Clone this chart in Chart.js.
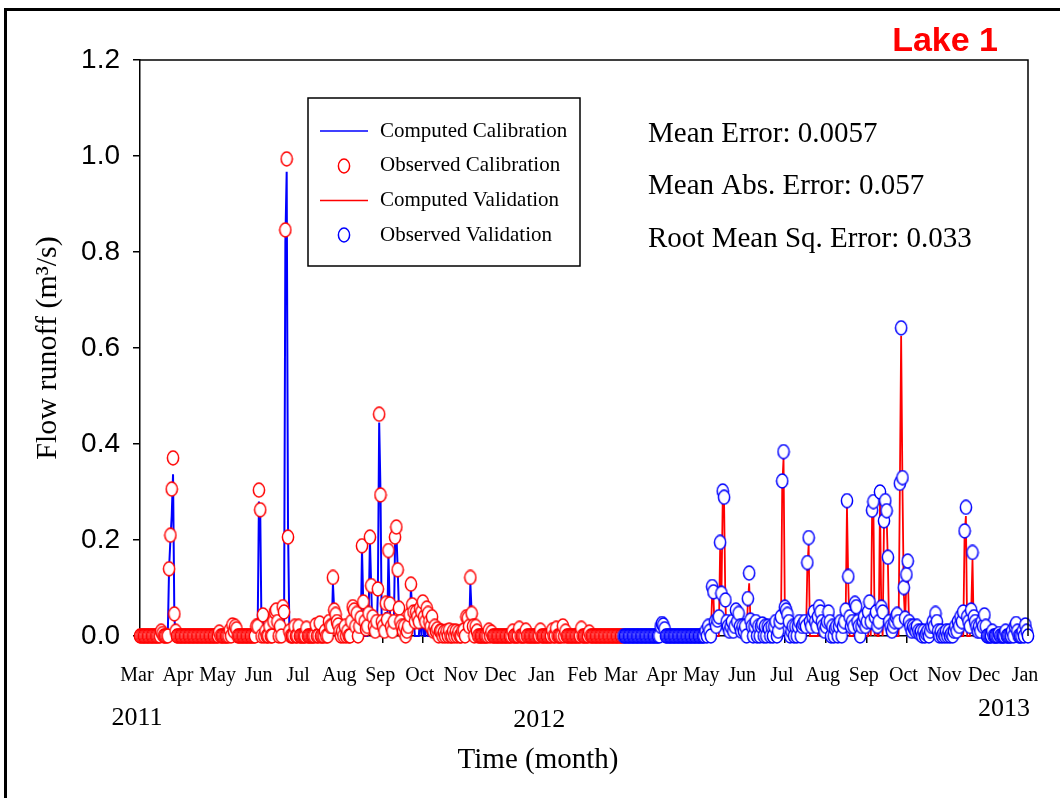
<!DOCTYPE html>
<html>
<head>
<meta charset="utf-8">
<title>Lake 1 - Flow runoff</title>
<script src="https://cdn.jsdelivr.net/npm/chart.js@4.4.1/dist/chart.umd.min.js"></script>
<style>
  html, body { margin: 0; padding: 0; background: #fff; }
  canvas { display: block; }
</style>
</head>
<body>
<canvas id="runoffChart" width="1060" height="798"></canvas>
<script>
// ---- data (daily values, m3/s) ----
// day 0 = 1 Mar 2011
const calStart = 0;    // calibration: 1 Mar 2011 .. 29 Feb 2012
const valStart = 366;  // validation: 1 Mar 2012 .. 1 Jan 2013

const calObs = [
  /* Mar */ 0,0,0,0,0,0,0,0,0,0, 0,0,0,0,0,0,0.01,0.005,0,0, 0,0,0.14,0.21,0.306,0.371,0.046,0.01,0,0, 0,
  /* Apr */ 0,0,0,0,0,0,0,0,0,0, 0,0,0,0,0,0,0,0,0,0, 0,0,0,0,0,0,0,0,0,0.008,
  /* May */ 0,0,0,0,0,0,0,0.012,0,0.023, 0.01,0.02,0.015,0,0,0,0,0,0,0, 0,0,0,0,0,0,0,0.02,0.02,0.304, 0.263,
  /* Jun */ 0,0.044,0,0.01,0,0,0.02,0,0,0.03, 0.05,0.054,0.03,0,0.02,0,0.061,0.05,0.846,0.994, 0.206,0.01,0,0,0,0.02,0,0,0.02,0,
  /* Jul */ 0,0,0,0,0.016,0,0,0,0,0, 0,0.023,0,0,0.027,0,0,0,0.01,0, 0,0.03,0.02,0.02,0.122,0.054,0.045,0.03,0.023,0.01, 0,
  /* Aug */ 0.01,0,0.02,0,0.01,0,0,0.03,0.061,0.054, 0.02,0.047,0,0.02,0.038,0.188,0.071,0.03,0.015,0.02, 0.047,0.206,0.105,0.04,0.02,0.01,0.03,0.098,0.462,0.294, 0.03,
  /* Sep */ 0.02,0.01,0.068,0.034,0.178,0.067,0.02,0.01,0.03,0.206, 0.227,0.138,0.058,0.03,0.02,0.01,0.02,0,0.01,0.02, 0.044,0.108,0.065,0.05,0.03,0.05,0.04,0.03,0.058,0.05,
  /* Oct */ 0.071,0.04,0.03,0.058,0.047,0.03,0.02,0.04,0.01,0.02, 0.01,0.015,0,0.01,0.01,0,0.008,0,0.01,0, 0.012,0,0,0.01,0,0.01,0,0.008,0,0, 0.01,
  /* Nov */ 0.012,0,0.04,0.037,0.02,0.122,0.047,0.02,0,0.02, 0.01,0,0,0,0,0,0,0,0,0.012, 0,0.008,0,0,0,0,0,0,0,0,
  /* Dec */ 0,0,0,0,0,0,0,0.01,0,0, 0,0,0.016,0,0,0,0,0.012,0,0, 0,0,0,0,0,0,0,0,0.012,0, 0,
  /* Jan */ 0,0,0,0,0,0,0.012,0,0,0.016, 0,0,0,0,0.021,0,0.01,0,0,0, 0,0,0,0,0,0,0,0,0.016,0, 0,
  /* Feb */ 0,0,0,0.008,0,0,0,0,0,0, 0,0,0,0,0,0,0,0,0,0, 0,0,0,0,0,0,0,0,0
];

const calComp = [
  /* Mar */ 0,0,0,0,0,0,0,0,0,0, 0,0,0,0,0,0,0,0,0,0, 0,0,0.14,0.2,0.25,0.337,0.04,0,0,0, 0,
  /* Apr */ 0,0,0,0,0,0,0,0,0,0, 0,0,0,0,0,0,0,0,0,0, 0,0,0,0,0,0,0,0,0,0,
  /* May */ 0,0,0,0,0,0,0,0,0,0, 0,0,0,0,0,0,0,0,0,0, 0,0,0,0,0,0,0,0,0,0.28, 0.256,
  /* Jun */ 0,0.04,0,0,0,0,0,0,0,0, 0,0,0,0,0,0,0.05,0,0.82,0.967, 0.23,0.02,0,0,0,0,0,0,0,0,
  /* Jul */ 0,0,0,0,0,0,0,0,0,0, 0,0,0,0,0,0,0,0,0,0, 0,0,0,0,0.11,0.05,0.03,0,0,0, 0,
  /* Aug */ 0,0,0,0,0,0,0,0,0.05,0, 0,0.04,0,0,0,0.18,0.06,0,0,0, 0.04,0.2,0.1,0,0,0,0,0.09,0.445,0.3, 0,
  /* Sep */ 0,0,0.05,0,0.17,0.06,0,0,0,0.19, 0.215,0.14,0.05,0,0,0,0,0,0,0, 0,0.1,0.06,0.04,0,0,0,0,0.04,0,
  /* Oct */ 0.06,0,0,0.05,0,0,0,0,0,0, 0,0,0,0,0,0,0,0,0,0, 0,0,0,0,0,0,0,0,0,0, 0,
  /* Nov */ 0,0,0,0,0,0.11,0.045,0,0,0, 0,0,0,0,0,0,0,0,0,0, 0,0,0,0,0,0,0,0,0,0,
  /* Dec */ 0,0,0,0,0,0,0,0,0,0, 0,0,0,0,0,0,0,0,0,0, 0,0,0,0,0,0,0,0,0,0, 0,
  /* Jan */ 0,0,0,0,0,0,0,0,0,0, 0,0,0,0,0,0,0,0,0,0, 0,0,0,0,0,0,0,0,0,0, 0,
  /* Feb */ 0,0,0,0,0,0,0,0,0,0, 0,0,0,0,0,0,0,0,0,0, 0,0,0,0,0,0,0,0,0
];

const valObs = [
  /* Mar */ 0,0,0,0,0,0,0,0,0,0, 0,0,0,0,0,0,0,0,0,0, 0,0,0,0,0,0,0,0,0.02,0.026, 0.023,
  /* Apr */ 0.015,0,0,0,0,0,0,0,0,0, 0,0,0,0,0,0,0,0,0,0, 0,0,0,0,0,0,0,0,0,0,
  /* May */ 0,0.01,0,0.02,0.01,0,0.103,0.092,0.03,0.02, 0.033,0.04,0.195,0.089,0.302,0.289,0.075,0.03,0.02,0.01, 0.02,0.03,0.01,0.02,0.054,0.03,0.047,0.02,0.01,0.02, 0.01,
  /* Jun */ 0.02,0,0.078,0.131,0.033,0.02,0,0.02,0.03,0, 0.02,0,0.02,0.025,0,0.02,0,0.02,0.015,0, 0.02,0,0.02,0.03,0,0.01,0.03,0.04,0.323,0.384,
  /* Jul */ 0.06,0.054,0.045,0.03,0,0.01,0.02,0,0.02,0, 0.02,0.03,0,0.02,0.025,0.03,0.02,0.153,0.205,0.03, 0.02,0.04,0.05,0.03,0.02,0.04,0.061,0.05,0.03,0.02, 0.01,
  /* Aug */ 0.02,0.03,0.05,0.03,0,0.02,0,0.015,0.02,0, 0.02,0.03,0,0.02,0.03,0.054,0.282,0.124,0.04,0.02, 0.03,0.02,0.068,0.061,0.03,0.02,0,0.02,0.03,0.04, 0.02,
  /* Sep */ 0.03,0.05,0.071,0.03,0.262,0.28,0.04,0.05,0.02,0.03, 0.3,0.06,0.05,0.24,0.282,0.261,0.164,0.03,0.02,0.01, 0.02,0.03,0.04,0.045,0.03,0.318,0.642,0.33,0.101,0.037,
  /* Oct */ 0.128,0.156,0.03,0.02,0.01,0.02,0.015,0.01,0.02,0.01, 0.005,0.01,0,0.01,0,0.005,0.01,0,0.01,0.02, 0.03,0.02,0.047,0.03,0.01,0,0.01,0,0.005,0, 0.01,
  /* Nov */ 0,0.01,0,0.005,0,0.01,0.02,0.01,0.03,0.02, 0.04,0.03,0.05,0.219,0.268,0.04,0.03,0.02,0.054,0.174, 0.04,0.03,0.02,0.01,0.02,0.01,0.03,0.02,0.044,0.02,
  /* Dec */ 0,0,0,0,0.01,0,0,0,0,0.005, 0,0,0,0,0.01,0,0,0,0,0.01, 0,0.02,0.026,0.01,0,0,0,0.01,0,0.023, 0.01,
  /* Jan */ 0
];

const valComp = [
  /* Mar */ 0,0,0,0,0,0,0,0,0,0, 0,0,0,0,0,0,0,0,0,0, 0,0,0,0,0,0,0,0,0,0, 0,
  /* Apr */ 0,0,0,0,0,0,0,0,0,0, 0,0,0,0,0,0,0,0,0,0, 0,0,0,0,0,0,0,0,0,0,
  /* May */ 0,0,0,0,0,0,0.09,0.08,0,0, 0,0,0.18,0.08,0.29,0.28,0.07,0,0,0, 0,0,0,0,0.04,0,0.04,0,0,0, 0,
  /* Jun */ 0,0,0.07,0.11,0.03,0,0,0,0,0, 0,0,0,0,0,0,0,0,0,0, 0,0,0,0,0,0,0,0,0.31,0.37,
  /* Jul */ 0.05,0.04,0,0,0,0,0,0,0,0, 0,0,0,0,0,0,0,0.14,0.19,0, 0,0,0,0,0,0,0.05,0,0,0, 0,
  /* Aug */ 0,0,0,0,0,0,0,0,0,0, 0,0,0,0,0,0.04,0.27,0.11,0,0, 0,0,0.06,0,0,0,0,0,0,0, 0,
  /* Sep */ 0,0,0.06,0,0.25,0.27,0,0.04,0,0, 0.28,0.05,0,0.23,0.27,0.25,0.15,0,0,0, 0,0,0,0,0,0.3,0.625,0.31,0.09,0.03,
  /* Oct */ 0.12,0.14,0.02,0,0,0,0,0,0,0, 0,0,0,0,0,0,0,0,0,0, 0,0,0.04,0,0,0,0,0,0,0, 0,
  /* Nov */ 0,0,0,0,0,0,0,0,0,0, 0,0,0,0.21,0.25,0,0,0,0.05,0.16, 0,0,0,0,0,0,0,0,0.04,0,
  /* Dec */ 0,0,0,0,0,0,0,0,0,0, 0,0,0,0,0,0,0,0,0,0, 0,0,0,0,0,0,0,0,0,0, 0,
  /* Jan */ 0
];

// month ticks (day offsets from 1 Mar 2011)
const monthDays = [0, 31, 61, 92, 122, 153, 184, 214, 245, 275, 306, 337,
                   366, 397, 427, 458, 488, 519, 550, 580, 611, 641, 672];
const monthNames = ['Mar','Apr','May','Jun','Jul','Aug','Sep','Oct','Nov','Dec','Jan','Feb',
                    'Mar','Apr','May','Jun','Jul','Aug','Sep','Oct','Nov','Dec','Jan'];
const yearNames = ['2011', '2012', '2013'];
const yearDays = [0, 306, 672];
const yTicks = [0, 0.2, 0.4, 0.6, 0.8, 1.0, 1.2];

const statLines = ['Mean Error: 0.0057', 'Mean Abs. Error: 0.057', 'Root Mean Sq. Error: 0.033'];

const BLUE = '#0000ff';
const RED = '#ff0000';
const SERIF = "'Liberation Serif', 'Times New Roman', serif";
const SANS = "'Liberation Sans', Arial, sans-serif";

function toPoints(values, start) {
    return values.map((v, i) => ({ x: start + i, y: v }));
}

// marcador oval (o original é um pouco mais alto que largo)
function ring(color) {
    const cv = document.createElement('canvas');
    cv.width = 14;
    cv.height = 16;
    const g = cv.getContext('2d');
    g.beginPath();
    g.ellipse(7, 8, 5.6, 6.9, 0, 0, Math.PI * 2);
    g.fillStyle = '#fff';
    g.fill();
    g.lineWidth = 1.5;
    g.strokeStyle = color;
    g.stroke();
    return cv;
}
const redRing = ring(RED);
const blueRing = ring(BLUE);

// textos extras, legenda e molduras
const extras = {
    id: 'extras',
    beforeDraw(chart) {
        const c = chart.ctx;
        c.save();
        c.fillStyle = '#fff';
        c.fillRect(0, 0, chart.width, chart.height);
        c.restore();
    },
    afterDraw(chart) {
        const c = chart.ctx;
        const area = chart.chartArea;
        const xs = chart.scales.x;
        c.save();

        // outer frame (top + left)
        c.fillStyle = '#000';
        c.fillRect(4, 8, chart.width - 4, 3);
        c.fillRect(4, 8, 3, chart.height - 8);

        // top and right of plot box
        c.strokeStyle = '#000';
        c.lineWidth = 1.5;
        c.beginPath();
        c.moveTo(area.left, area.top);
        c.lineTo(area.right, area.top);
        c.lineTo(area.right, area.bottom);
        c.stroke();

        // Lake 1
        c.fillStyle = RED;
        c.font = 'bold 34px ' + SANS;
        c.textAlign = 'right';
        c.textBaseline = 'middle';
        c.fillText('Lake 1', 998, 42);

        // stats
        c.fillStyle = '#000';
        c.font = '29px ' + SERIF;
        c.textAlign = 'left';
        statLines.forEach((t, i) => c.fillText(t, 648, 134 + i * 52.5));

        // years under the month labels
        c.font = '26px ' + SERIF;
        c.textAlign = 'center';
        c.fillText(yearNames[0], xs.getPixelForValue(yearDays[0]) - 3, 718);
        c.fillText(yearNames[1], xs.getPixelForValue(yearDays[1]) - 5, 720);
        c.textAlign = 'right';
        c.fillText(yearNames[2], xs.getPixelForValue(yearDays[2]) + 2, 709);

        // x title
        c.textAlign = 'center';
        c.font = '29px ' + SERIF;
        c.fillText('Time (month)', 538, 760);

        // legend box
        c.lineWidth = 1.5;
        c.strokeStyle = '#000';
        c.strokeRect(308, 98, 272, 168);
        c.font = '21px ' + SERIF;
        c.textAlign = 'left';
        chart.data.datasets.forEach((ds, i) => {
            const y = 131 + i * 34.8;
            if (ds.showLine === false) {
                c.drawImage(ds.pointStyle, 344 - 7, Math.round(y) - 8);
            } else {
                c.beginPath();
                c.moveTo(320, y);
                c.lineTo(368, y);
                c.lineWidth = 1.5;
                c.strokeStyle = ds.borderColor;
                c.stroke();
            }
            c.fillStyle = '#000';
            c.fillText(ds.label, 380, y);
        });
        c.restore();
    }
};

const ctx = document.getElementById('runoffChart').getContext('2d');
new Chart(ctx, {
    type: 'line',
    data: {
        datasets: [{
            label: 'Computed Calibration',
            data: toPoints(calComp, calStart),
            borderColor: BLUE,
            borderWidth: 2,
            pointRadius: 0,
            tension: 0,
            order: 4,
            clip: false
        }, {
            label: 'Observed Calibration',
            data: toPoints(calObs, calStart),
            showLine: false,
            pointStyle: redRing,
            pointRadius: 7,
            order: 2,
            clip: false
        }, {
            label: 'Computed Validation',
            data: toPoints(valComp, valStart),
            borderColor: RED,
            borderWidth: 1.8,
            pointRadius: 0,
            tension: 0,
            order: 3,
            clip: false
        }, {
            label: 'Observed Validation',
            data: toPoints(valObs, valStart),
            showLine: false,
            pointStyle: blueRing,
            pointRadius: 7,
            order: 1,
            clip: false
        }]
    },
    options: {
        responsive: false,
        animation: false,
        devicePixelRatio: 1,
        layout: { padding: { left: 0, right: 32, top: 60, bottom: 0 } },
        plugins: {
            legend: { display: false },
            tooltip: { enabled: false }
        },
        scales: {
            x: {
                type: 'linear',
                min: monthDays[0],
                max: monthDays[monthDays.length - 1],
                afterBuildTicks: s => { s.ticks = monthDays.map(d => ({ value: d })); },
                afterFit: s => { s.height = 162; s.paddingLeft = 0; s.paddingRight = 0; },
                ticks: {
                    autoSkip: false,
                    maxRotation: 0,
                    padding: 21,
                    labelOffset: -3,
                    color: '#000',
                    font: { family: SERIF, size: 20 },
                    callback: (v, i) => monthNames[i]
                },
                grid: { drawOnChartArea: false, tickLength: 7, color: '#000', lineWidth: 1.5 },
                border: { color: '#000', width: 1.5 }
            },
            y: {
                min: 0,
                max: 1.2,
                afterBuildTicks: s => { s.ticks = yTicks.map(v => ({ value: v })); },
                afterFit: s => { s.width = 140; },
                ticks: {
                    padding: 13,
                    color: '#000',
                    font: { family: SANS, size: 28 },
                    callback: v => v.toFixed(1)
                },
                grid: { drawOnChartArea: false, tickLength: 7, color: '#000', lineWidth: 1.5 },
                border: { color: '#000', width: 1.5 },
                title: {
                    display: true,
                    text: 'Flow runoff (m³/s)',
                    color: '#000',
                    font: { family: SERIF, size: 30 },
                    padding: { top: 30, bottom: 0 }
                }
            }
        }
    },
    plugins: [extras]
});
</script>
</body>
</html>
